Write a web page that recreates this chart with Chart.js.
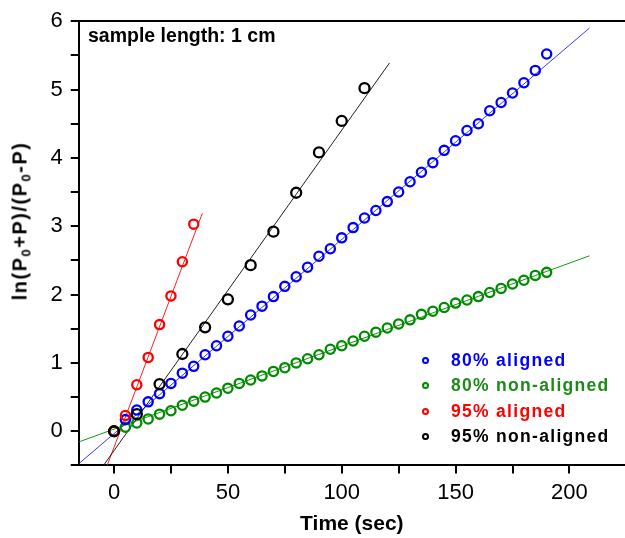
<!DOCTYPE html>
<html>
<head>
<meta charset="utf-8">
<script src="https://cdn.jsdelivr.net/npm/chart.js@4.4.1/dist/chart.umd.min.js"></script>
<style>
  html, body { margin: 0; padding: 0; background: #fff; }
  #wrap { position: relative; width: 625px; height: 538px; overflow: hidden; font-family: "Liberation Sans", Arial, sans-serif; }
  #ytitle { position: absolute; left: 20px; top: 221px; transform: translate(-50%, -50%) rotate(-90deg);
    font-weight: bold; font-size: 20px; letter-spacing: 1.5px; white-space: nowrap; color: #000; }
  #ytitle sub { font-size: 13px; vertical-align: -4px; line-height: 0; }
  #note { position: absolute; left: 88px; top: 26px; font-weight: bold; font-size: 19.5px; line-height: 19px; color: #000; white-space: nowrap; }
  #legend { position: absolute; left: 422px; top: 348px; }
  .row { height: 25.3px; line-height: 25.3px; font-weight: bold; font-size: 17.5px; letter-spacing: 1.3px; white-space: nowrap; }
  .mk { display: inline-block; width: 3px; height: 3px; border: 2px solid; border-radius: 50%; margin-right: 22px; vertical-align: 2px; }
</style>
</head>
<body>
<div id="wrap">
  <canvas id="c" width="625" height="538"></canvas>
  <div id="ytitle">ln(P<sub>0</sub>+P)/(P<sub>0</sub>-P)</div>
  <div id="note">sample length: 1 cm</div>
  <div id="legend"></div>
</div>
<script>
// values
var T_80 = [0, 5, 10, 15, 20, 25, 30, 35, 40, 45, 50, 55, 60, 65, 70, 75, 80, 85, 90, 95,
            100, 105, 110, 115, 120, 125, 130, 135, 140, 145, 150, 155, 160, 165, 170, 175, 180, 185, 190];
var Y_80_ALIGNED = [0.00, 0.17, 0.31, 0.43, 0.55, 0.70, 0.85, 0.95, 1.12, 1.25, 1.39, 1.54, 1.70, 1.83, 1.97, 2.12, 2.26, 2.40, 2.56, 2.67,
                    2.83, 2.98, 3.12, 3.23, 3.36, 3.50, 3.65, 3.79, 3.93, 4.11, 4.25, 4.40, 4.50, 4.69, 4.81, 4.95, 5.10, 5.28, 5.52];
var Y_80_NONALIGNED = [0.00, 0.06, 0.12, 0.18, 0.25, 0.30, 0.38, 0.44, 0.50, 0.56, 0.63, 0.70, 0.75, 0.81, 0.875, 0.93, 1.00, 1.06, 1.12, 1.20,
                       1.25, 1.32, 1.39, 1.45, 1.51, 1.57, 1.63, 1.71, 1.755, 1.81, 1.875, 1.92, 1.97, 2.03, 2.09, 2.155, 2.21, 2.28, 2.325];
var T_95_ALIGNED = [0, 5, 10, 15, 20, 25, 30, 35];
var Y_95_ALIGNED = [0.00, 0.23, 0.68, 1.08, 1.56, 1.98, 2.48, 3.03];
var T_95_NONALIGNED = [0, 10, 20, 30, 40, 50, 60, 70, 80, 90, 100, 110];
var Y_95_NONALIGNED = [0.00, 0.25, 0.69, 1.13, 1.52, 1.93, 2.43, 2.92, 3.49, 4.08, 4.54, 5.02];

// linear fit lines: [x0, x1], [y0, y1]
var FIT_80_ALIGNED_X = [-15.3, 208.8],    FIT_80_ALIGNED_Y = [-0.47, 5.90];
var FIT_80_NONALIGNED_X = [-15.3, 208.8], FIT_80_NONALIGNED_Y = [-0.155, 2.567];
var FIT_95_ALIGNED_X = [-2.9, 38.8],      FIT_95_ALIGNED_Y = [-0.49, 3.19];
var FIT_95_NONALIGNED_X = [-4.4, 121],    FIT_95_NONALIGNED_Y = [-0.49, 5.39];

var LABELS = ["80% aligned", "80% non-aligned", "95% aligned", "95% non-aligned"];
var COLORS = ["#0000ff", "#008a00", "#ff0000", "#000000"];
var TEXT_COLORS = ["#0000ff", "#1f8a1a", "#ff0000", "#000000"];
var LINE_COLORS = ["#3a3aff", "#139a13", "#ff2020", "#222222"];

function pts(xs, ys) {
  return xs.map(function(x, i) { return { x: x, y: ys[i] }; });
}

function markers(label, xs, ys, color, r) {
  return {
    label: label, data: pts(xs, ys), showLine: false,
    pointStyle: "circle", pointRadius: r, pointHoverRadius: r,
    pointBorderWidth: 2.3, borderColor: color, backgroundColor: "rgba(0,0,0,0)",
    xAxisID: "x", yAxisID: "y"
  };
}

function fit(xs, ys, color) {
  return {
    label: "", data: pts(xs, ys), showLine: true, pointRadius: 0,
    borderColor: color, borderWidth: 1, fill: false,
    xAxisID: "x", yAxisID: "y"
  };
}

var X_MIN = -15.5, X_MAX = 224.4, Y_MIN = -0.5, Y_MAX = 6;
var tickFont = { family: "'Liberation Sans', Arial, sans-serif", size: 22 };

new Chart(document.getElementById("c").getContext("2d"), {
  type: "scatter",
  data: {
    datasets: [
      markers(LABELS[3], T_95_NONALIGNED, Y_95_NONALIGNED, COLORS[3], 5),
      markers(LABELS[2], T_95_ALIGNED, Y_95_ALIGNED, COLORS[2], 4.6),
      markers(LABELS[0], T_80, Y_80_ALIGNED, COLORS[0], 4.6),
      markers(LABELS[1], T_80, Y_80_NONALIGNED, COLORS[1], 4.6),
      fit(FIT_95_NONALIGNED_X, FIT_95_NONALIGNED_Y, LINE_COLORS[3]),
      fit(FIT_95_ALIGNED_X, FIT_95_ALIGNED_Y, LINE_COLORS[2]),
      fit(FIT_80_ALIGNED_X, FIT_80_ALIGNED_Y, LINE_COLORS[0]),
      fit(FIT_80_NONALIGNED_X, FIT_80_NONALIGNED_Y, LINE_COLORS[1])
    ]
  },
  options: {
    responsive: false,
    animation: false,
    layout: { autoPadding: false, padding: { left: 42.5, top: 17, right: 0, bottom: 0 } },
    plugins: { legend: { display: false }, tooltip: { enabled: false } },
    scales: {
      x: {
        type: "linear", position: "bottom", min: X_MIN, max: X_MAX,
        ticks: {
          stepSize: 25, includeBounds: false, color: "#000", font: tickFont, padding: 6, maxRotation: 0,
          callback: function(v) { return v % 50 === 0 ? v : ""; }
        },
        grid: { drawOnChartArea: false, drawTicks: true, tickLength: 8, color: "#000", lineWidth: 2 },
        border: { display: true, color: "#000", width: 2 },
        title: {
          display: true, text: "Time (sec)", color: "#000",
          font: { family: "'Liberation Sans', Arial, sans-serif", size: 21, weight: "bold" },
          padding: { top: 0, bottom: 1 }
        }
      },
      x2: {
        type: "linear", position: "top", min: X_MIN, max: X_MAX,
        ticks: { display: false },
        grid: { display: false, drawTicks: false },
        border: { display: true, color: "#000", width: 2 }
      },
      y: {
        type: "linear", position: "left", min: Y_MIN, max: Y_MAX,
        ticks: {
          stepSize: 0.5, includeBounds: false, color: "#000", font: tickFont, padding: 8,
          callback: function(v) { return Number.isInteger(v) ? v : ""; }
        },
        grid: { drawOnChartArea: false, drawTicks: true, tickLength: 8, color: "#000", lineWidth: 2 },
        border: { display: true, color: "#000", width: 2 }
      }
    }
  }
});

// legend inside the plot, lower right
var lg = document.getElementById("legend");
LABELS.forEach(function(lab, i) {
  var row = document.createElement("div");
  row.className = "row";
  row.style.color = TEXT_COLORS[i];
  row.innerHTML = '<span class="mk" style="border-color:' + COLORS[i] + '"></span>' + lab;
  lg.appendChild(row);
});
</script>
</body>
</html>
